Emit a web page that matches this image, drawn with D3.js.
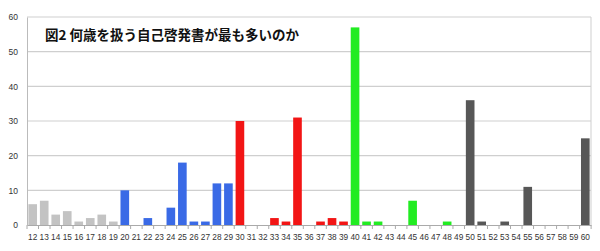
<!DOCTYPE html>
<html>
<head>
<meta charset="utf-8">
<script src="https://cdn.jsdelivr.net/npm/d3@7"></script>
<style>
  body { margin: 0; background: #fff; }
  svg { display: block; }
</style>
</head>
<body>
<div id="chart"></div>
<script>
// ages 12..60 and number of books
const ages = d3.range(12, 61).map(String);
const counts = [6, 7, 3, 4, 1, 2, 3, 1,
    10, 0, 2, 0, 5, 18, 1, 1, 12, 12,
    30, 0, 0, 2, 1, 31, 0, 1, 2, 1,
    57, 1, 1, 0, 0, 7, 0, 0, 1, 0,
    36, 1, 0, 1, 0, 11, 0, 0, 0, 0, 25];
const yTicks = [0, 10, 20, 30, 40, 50, 60];
const decadeColors = ["#c3c3c3", "#3a6ae6", "#f21515", "#22ec22", "#575757"];
const title = "図2 何歳を扱う自己啓発書が最も多いのか";

const W = 600, H = 251;
const margin = { top: 17, right: 9, bottom: 26, left: 27 };
const width = W - margin.left - margin.right;
const height = H - margin.top - margin.bottom;

const svg = d3.select("#chart").append("svg")
    .attr("width", W)
    .attr("height", H)
    .append("g")
    .attr("transform", `translate(${margin.left},${margin.top})`);

const x = d3.scaleBand().domain(ages).range([0, width]).paddingInner(0.25).paddingOuter(0.12);
const y = d3.scaleLinear().domain([0, 60]).range([height, 0]);

// gridlines
svg.append("g")
    .selectAll("line")
    .data(yTicks.filter(d => d > 0))
    .enter().append("line")
    .attr("x1", 0).attr("x2", width)
    .attr("y1", d => y(d)).attr("y2", d => y(d))
    .attr("stroke", "#cfcfcf").attr("stroke-width", 1.2);

// right border
svg.append("line")
    .attr("x1", width).attr("x2", width)
    .attr("y1", 0).attr("y2", height)
    .attr("stroke", "#cfcfcf");

// y axis
const yAxis = svg.append("g")
    .call(d3.axisLeft(y).tickValues(yTicks).tickSize(0).tickPadding(9));
yAxis.select(".domain").attr("stroke", "#bbb");
yAxis.selectAll("text").attr("font-family", "Liberation Sans, Arial, sans-serif")
    .attr("font-size", 8.5).attr("fill", "#333");

// bars
svg.selectAll("rect.bar")
    .data(ages.map((a, i) => ({ age: a, n: counts[i] })))
    .enter().append("rect")
    .attr("class", "bar")
    .attr("x", d => x(d.age))
    .attr("width", x.bandwidth())
    .attr("y", d => y(d.n))
    .attr("height", d => height - y(d.n))
    .attr("fill", d => decadeColors[Math.min(4, Math.floor(+d.age / 10) - 1)]);

// x axis
const step = x.step();
const xAxis = svg.append("g")
    .attr("transform", `translate(0,${height})`)
    .call(d3.axisBottom(x).tickSize(0).tickPadding(9));
xAxis.select(".domain").attr("stroke", "#aaa");
xAxis.selectAll("text").attr("font-family", "Liberation Sans, Arial, sans-serif")
    .attr("font-size", 8.3).attr("fill", "#333");
// tick marks between categories
xAxis.selectAll("line.sep")
    .data(d3.range(ages.length + 1))
    .enter().append("line")
    .attr("class", "sep")
    .attr("x1", i => i * step).attr("x2", i => i * step)
    .attr("y1", 0).attr("y2", 4)
    .attr("stroke", "#aaa");

// title
svg.append("text")
    .attr("x", 18)
    .attr("y", 23)
    .attr("font-family", "Noto Sans CJK JP, sans-serif")
    .attr("font-weight", "bold")
    .attr("font-size", 13.5)
    .attr("fill", "#111")
    .text(title);
</script>
</body>
</html>
